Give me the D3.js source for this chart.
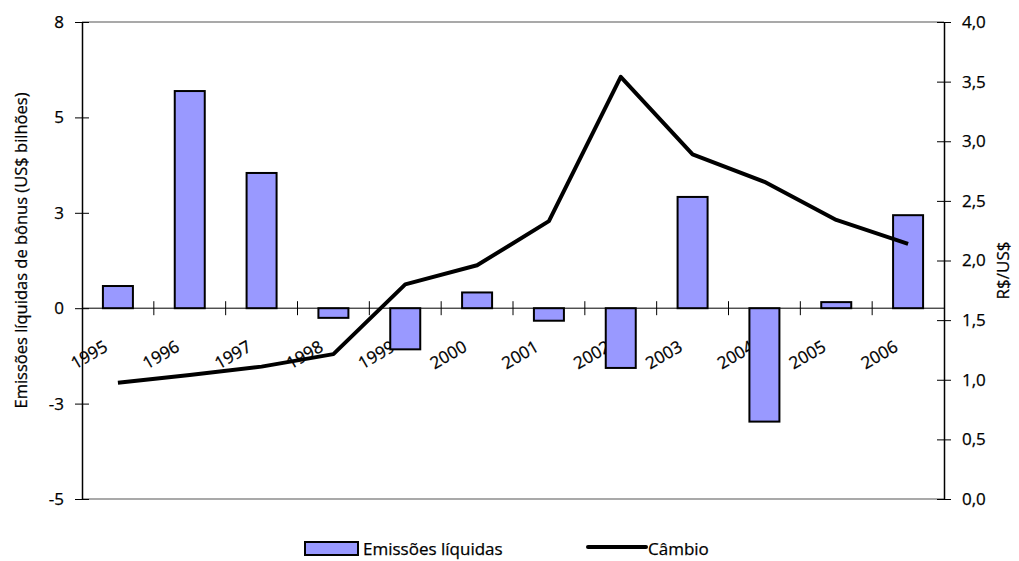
<!DOCTYPE html>
<html><head><meta charset="utf-8">
<script src="https://cdn.jsdelivr.net/npm/d3@7"></script>
<style>
html,body{margin:0;padding:0;background:#fff;}
text{font-family:"Open Sans",sans-serif;fill:#000;stroke:#000;stroke-width:0.25px;}
</style></head>
<body>
<svg id="chart" width="1019" height="561"></svg>
<script>
const years = ["1995","1996","1997","1998","1999","2000","2001","2002","2003","2004","2005","2006"];
const emissoes = [0.62, 6.07, 3.78, -0.27, -1.15, 0.44, -0.35, -1.67, 3.11, -3.17, 0.17, 2.60];
const cambio = [0.975, 1.04, 1.11, 1.215, 1.80, 1.96, 2.33, 3.54, 2.89, 2.66, 2.34, 2.14];
const leftTicks = [-16/3, -8/3, 0, 8/3, 16/3, 8];
const rightTicks = [0, 0.5, 1.0, 1.5, 2.0, 2.5, 3.0, 3.5, 4.0];
const leftTitle = "Emissões líquidas de bônus (US$ bilhões)";
const rightTitle = "R$/US$";
const legendBar = "Emissões líquidas";
const legendLine = "Câmbio";

const svg = d3.select("#chart");
const L = 82, R = 944, T = 22, B = 499;
const fs = 17;

const x = d3.scaleBand().domain(years).range([L, R]).paddingInner(0).paddingOuter(0);
const yL = d3.scaleLinear().domain([-16/3, 8]).range([B, T]);
const yR = d3.scaleLinear().domain([0, 4]).range([B, T]);
const zeroY = yL(0);
const barW = 30;

// plot frame top/bottom (gray)
svg.append("line").attr("x1", L).attr("x2", R).attr("y1", T).attr("y2", T).attr("stroke", "#8c8c8c").attr("stroke-width", 1.5);
svg.append("line").attr("x1", L).attr("x2", R).attr("y1", B).attr("y2", B).attr("stroke", "#8c8c8c").attr("stroke-width", 1.5);

// category labels
svg.append("g").selectAll("text").data(years).join("text")
  .attr("transform", d => `translate(${x(d) + x.bandwidth()/2 - 9},${zeroY + 42}) rotate(-30)`)
  .attr("text-anchor", "end")
  .attr("font-size", fs)
  .text(d => d);

// zero axis line + ticks
svg.append("line").attr("x1", L).attr("x2", R).attr("y1", zeroY).attr("y2", zeroY).attr("stroke", "#000").attr("stroke-width", 1);
svg.append("g").selectAll("line").data(years.slice(1)).join("line")
  .attr("x1", d => x(d)).attr("x2", d => x(d))
  .attr("y1", zeroY - 7).attr("y2", zeroY + 7)
  .attr("stroke", "#000").attr("stroke-width", 1);

// bars
svg.append("g").selectAll("rect").data(emissoes).join("rect")
  .attr("x", (d, i) => x(years[i]) + x.bandwidth()/2 - barW/2)
  .attr("width", barW)
  .attr("y", d => yL(Math.max(0, d)))
  .attr("height", d => Math.abs(yL(d) - yL(0)))
  .attr("fill", "#9999ff").attr("stroke", "#000").attr("stroke-width", 2);

// line
const line = d3.line().x((d, i) => x(years[i]) + x.bandwidth()/2).y(d => yR(d));
svg.append("path").datum(cambio).attr("d", line)
  .attr("fill", "none").attr("stroke", "#000").attr("stroke-width", 4).attr("stroke-linejoin", "round");

// left axis
const fmtL = d => d3.format(".0f")(d).replace("−", "-");
const gL = svg.append("g").attr("transform", `translate(${L},0)`)
  .call(d3.axisLeft(yL).tickValues(leftTicks).tickSizeInner(7).tickSizeOuter(0).tickPadding(11).tickFormat(fmtL));
gL.select(".domain").attr("stroke", "#000").attr("stroke-width", 1.5);
gL.selectAll(".tick line").attr("x2", 7).attr("x1", -7).attr("stroke", "#000");
gL.selectAll("text").attr("font-size", fs).attr("font-family", "Open Sans").attr("fill", "#000");

// right axis
const fmtR = d => d3.format(".1f")(d).replace(".", ",");
const gR = svg.append("g").attr("transform", `translate(${R},0)`)
  .call(d3.axisRight(yR).tickValues(rightTicks).tickSizeInner(7).tickSizeOuter(0).tickPadding(11).tickFormat(fmtR));
gR.select(".domain").attr("stroke", "#000").attr("stroke-width", 1.5);
gR.selectAll(".tick line").attr("x1", -7).attr("x2", 7).attr("stroke", "#000");
gR.selectAll("text").attr("font-size", fs).attr("font-family", "Open Sans").attr("fill", "#000");

// axis titles
svg.append("text").attr("transform", `translate(27,250.5) rotate(-90)`)
  .attr("text-anchor", "middle").attr("font-size", 16.5).text(leftTitle);
svg.append("text").attr("transform", `translate(1009,${(T+B)/2 + 10}) rotate(-90)`)
  .attr("text-anchor", "middle").attr("font-size", fs).text(rightTitle);

// legend
svg.append("rect").attr("x", 305).attr("y", 542).attr("width", 53).attr("height", 13)
  .attr("fill", "#9999ff").attr("stroke", "#000").attr("stroke-width", 2);
svg.append("text").attr("x", 363).attr("y", 555).attr("font-size", fs).text(legendBar);
svg.append("line").attr("x1", 588).attr("x2", 646).attr("y1", 547).attr("y2", 547)
  .attr("stroke", "#000").attr("stroke-width", 4).attr("stroke-linecap", "round");
svg.append("text").attr("x", 648).attr("y", 555).attr("font-size", fs).text(legendLine);
</script>
</body></html>
